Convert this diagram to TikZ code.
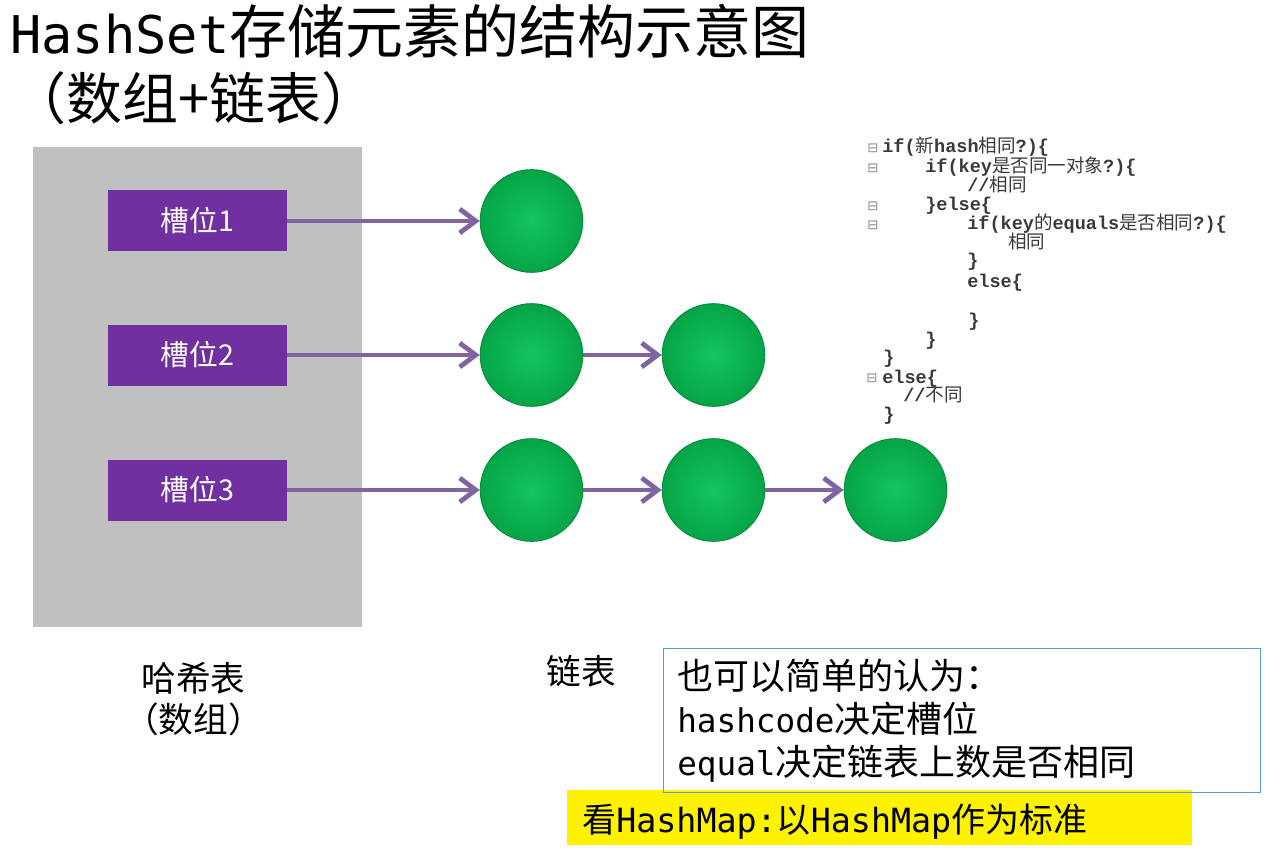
\documentclass[tikz,border=0pt]{standalone}
\usepackage{fontspec}
\setmainfont{Noto Sans CJK SC}
\newfontfamily\mo{DejaVu Sans Mono}
\newfontfamily\cm{Liberation Mono}
\newfontfamily\symf{DejaVu Sans}
\usetikzlibrary{arrows.meta}
\definecolor{slotpurple}{HTML}{7030A0}
\definecolor{arrowpurple}{HTML}{8064A2}
\definecolor{hashgray}{HTML}{C0C0C0}
\definecolor{balllight}{HTML}{14C65E}
\definecolor{balldark}{HTML}{05A447}
\definecolor{ballrim}{HTML}{058E3D}
\definecolor{boxblue}{HTML}{5B9BD5}
\definecolor{codegray}{HTML}{3A3A3A}
\definecolor{foldgray}{HTML}{8A8A8A}
\newcommand\lat[1]{{\cm\bfseries #1}}
\tikzset{
  slotbox/.style={rectangle, fill=slotpurple, minimum width=134.25pt, minimum height=45.75pt,
    inner sep=0, text=white, font=\fontsize{21.5}{22}\selectfont},
  ball/.style={circle, minimum size=77pt, inner sep=0, inner color=balllight, outer color=balldark,
    draw=ballrim, line width=0.7pt},
  arr/.style={draw=arrowpurple, line width=3.6pt, -{Straight Barb[length=12pt,width=18pt]}},
  codeln/.style={anchor=base west, inner sep=0, text=codegray, font=\fontsize{13.9}{14}\selectfont},
  fold/.style={anchor=center, inner sep=0, text=foldgray, font=\symf\fontsize{10}{10}\selectfont},
  lbl/.style={inner sep=0, font=\fontsize{26}{30}\selectfont},
  note/.style={anchor=base west, inner sep=0, font=\fontsize{27}{30}\selectfont},
  titlefont/.style={anchor=base west, inner sep=0, font=\fontsize{43.5}{45}\selectfont},
}
\begin{document}
\begin{tikzpicture}[x=0.75pt,y=-0.75pt]
\useasboundingbox (0,0) rectangle (1277,859);
\fill[white] (0,0) rectangle (1277,859);

% title
\node[titlefont] (title) at (10,54)
  {{\mo\fontsize{39}{40}\selectfont HashSet}存储元素的结构示意图};
\node[titlefont, font=\fontsize{42}{44}\selectfont] (subtitle) at (10,120)
  {（数组+链表）};

% hash table
\fill[hashgray] (33,147) rectangle (362,627);
\node[slotbox] (s1) at (197.5,221) {槽位1};
\node[slotbox] (s2) at (197.5,355) {槽位2};
\node[slotbox] (s3) at (197.5,490) {槽位3};

% nodes of lists
\node[ball] (n11) at (531.5,221) {};
\node[ball] (n21) at (531.5,355) {};
\node[ball] (n22) at (713.5,355) {};
\node[ball] (n31) at (531.5,490) {};
\node[ball] (n32) at (713.5,490) {};
\node[ball] (n33) at (895.5,490) {};

\draw[arr] (s1.east) -- (n11.west);
\draw[arr] (s2.east) -- (n21.west);
\draw[arr] (n21.east) -- (n22.west);
\draw[arr] (s3.east) -- (n31.west);
\draw[arr] (n31.east) -- (n32.west);
\draw[arr] (n32.east) -- (n33.west);

% labels
\node[lbl] (l1) at (193.5,678) {哈希表};
\node[lbl] (l2) at (193.5,719) {（数组）};
\node[lbl] (l3) at (581,671) {链表};

% code
\node[fold] (f1) at (873,148) {⊟};
\node[codeln] (c1) at (882,153) {\lat{if(}新\lat{hash}相同\lat{?)\{}};
\node[fold] (f2) at (873,168) {⊟};
\node[codeln] (c2) at (925,173) {\lat{if(key}是否同一对象\lat{?)\{}};
\node[codeln] (c3) at (967,192) {\lat{//}相同};
\node[fold] (f4) at (873,206) {⊟};
\node[codeln] (c4) at (925,211) {\lat{\}else\{}};
\node[fold] (f5) at (873,225) {⊟};
\node[codeln] (c5) at (967,230) {\lat{if(key}的\lat{equals}是否相同\lat{?)\{}};
\node[codeln] (c6) at (1008,248) {相同};
\node[codeln] (c7) at (967,267) {\lat{\}}};
\node[codeln] (c8) at (967,287) {\lat{else\{}};
\node[codeln] (c9) at (968,326) {\lat{\}}};
\node[codeln] (c10) at (925,345) {\lat{\}}};
\node[codeln] (c11) at (883,363) {\lat{\}}};
\node[fold] (f12) at (872,378) {⊟};
\node[codeln] (c12) at (882,383) {\lat{else\{}};
\node[codeln] (c13) at (903,401) {\lat{//}不同};
\node[codeln] (c14) at (883,420) {\lat{\}}};

% standard box
\node[rectangle, fill=yellow, anchor=north west, minimum width=468.75pt, minimum height=41.25pt, inner sep=0] (std) at (567,790) {};
\node[anchor=base west, inner sep=0, font=\fontsize{25.5}{28}\selectfont] (stdtext) at (582,832)
  {看{\mo\fontsize{25}{28}\selectfont HashMap:}以{\mo\fontsize{25}{28}\selectfont HashMap}作为标准};

% note box
\node[rectangle, draw=boxblue, line width=0.9pt, anchor=north west, minimum width=447.75pt, minimum height=108pt, inner sep=0] (notebox) at (663,648) {};
\node[note] (t1) at (677,689) {也可以简单的认为：};
\node[note] (t2) at (677,732) {{\mo\fontsize{24.5}{28}\selectfont hashcode}决定槽位};
\node[note] (t3) at (677,775) {{\mo\fontsize{24.5}{28}\selectfont equal}决定链表上数是否相同};
\end{tikzpicture}
\end{document}
